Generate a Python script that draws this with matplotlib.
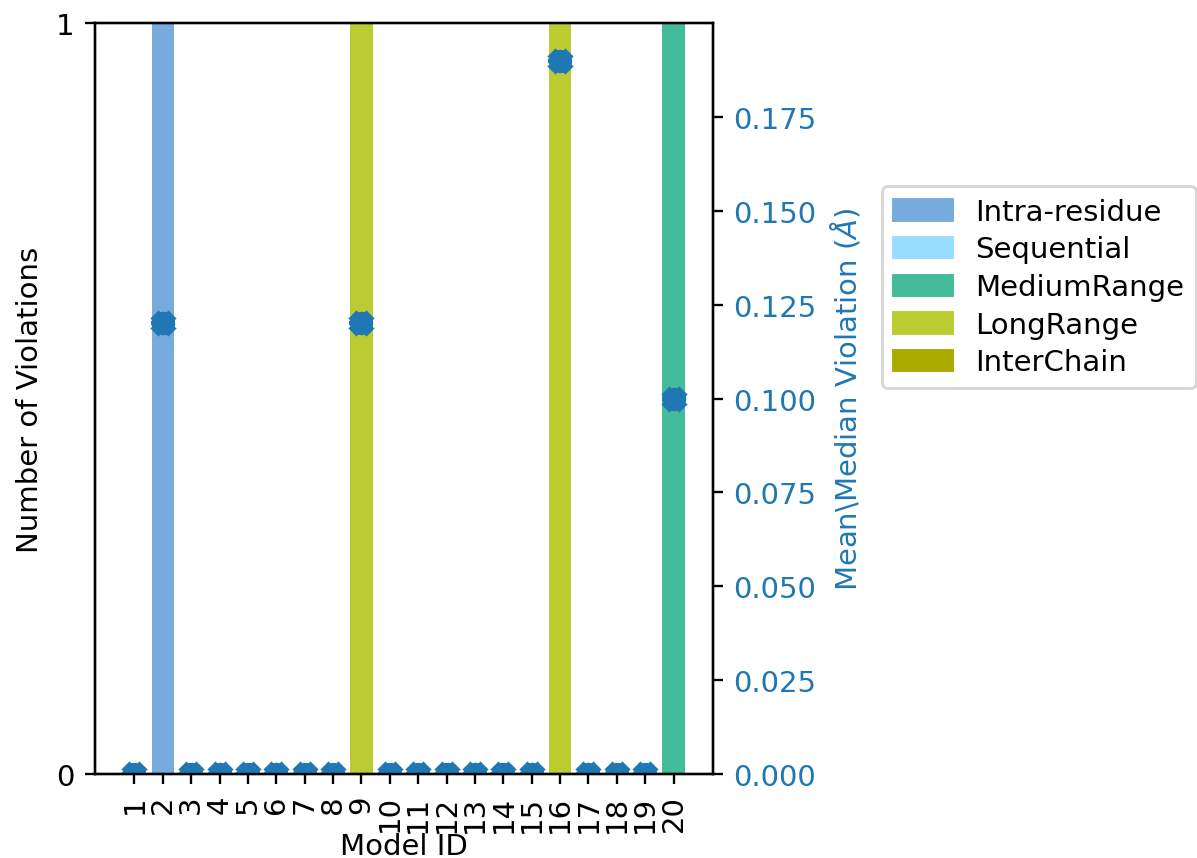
import numpy as np
import matplotlib
matplotlib.use("Agg")
import matplotlib.pyplot as plt
from matplotlib.patches import Patch

model_ids = [str(i) for i in range(1, 21)]
categories = ["Intra-residue", "Sequential", "MediumRange", "LongRange", "InterChain"]
colores = ["#77AADD", "#99DDFF", "#44BB99", "#BBCC33", "#AAAA00"]

# numero de violaciones por modelo y categoria
intra = [0, 1, 0, 0, 0, 0, 0, 0, 0, 0, 0, 0, 0, 0, 0, 0, 0, 0, 0, 0]
seq = [0] * 20
medium = [0, 0, 0, 0, 0, 0, 0, 0, 0, 0, 0, 0, 0, 0, 0, 0, 0, 0, 0, 1]
long_r = [0, 0, 0, 0, 0, 0, 0, 0, 1, 0, 0, 0, 0, 0, 0, 1, 0, 0, 0, 0]
inter = [0] * 20

mean_viol = [0, 0.12, 0, 0, 0, 0, 0, 0, 0.12, 0, 0, 0, 0, 0, 0, 0.19, 0, 0, 0, 0.10]
median_viol = [0, 0.12, 0, 0, 0, 0, 0, 0, 0.12, 0, 0, 0, 0, 0, 0, 0.19, 0, 0, 0, 0.10]

DPI = 210
fig, ax = plt.subplots(figsize=(1197 / DPI, 859 / DPI), dpi=DPI)
x = np.arange(len(model_ids))

bottom = np.zeros(len(model_ids))
for serie, color in zip([intra, seq, medium, long_r, inter], colores):
    serie = np.array(serie)
    ax.bar(x, serie, 0.8, bottom=bottom, color=color)
    bottom += serie

ax.set_ylim(0, 1)
ax.set_yticks([0, 1])
ax.set_xticks(x)
ax.set_xticklabels(model_ids, rotation=90)
ax.set_xlabel("Model ID", labelpad=0)
ax.set_ylabel("Number of Violations")

ax2 = ax.twinx()
azul = "#1f77b4"
ax2.plot(x, median_viol, 'X', color=azul, ms=7.5)
ax2.plot(x, median_viol, '_', color=azul, ms=8.5, mew=1.5)
ax2.plot(x, mean_viol, 'o', color=azul, ms=7)
ax2.set_ylim(0, 0.2)
ax2.set_yticks([0, 0.025, 0.05, 0.075, 0.1, 0.125, 0.15, 0.175])
ax2.set_yticklabels(["0.000", "0.025", "0.050", "0.075", "0.100", "0.125", "0.150", "0.175"])
ax2.tick_params(axis='y', labelcolor=azul)
ax2.set_ylabel("Mean\\Median Violation ($\\AA$)", color=azul)

handles = [Patch(color=c, label=l) for c, l in zip(colores, categories)]
ax.legend(handles=handles, loc='upper left', bbox_to_anchor=(1.273, 0.783),
          borderaxespad=0, labelspacing=0.33)

fig.subplots_adjust(left=0.0794, right=0.5957, top=0.972, bottom=0.0978)
plt.savefig("out.png", dpi=DPI)
